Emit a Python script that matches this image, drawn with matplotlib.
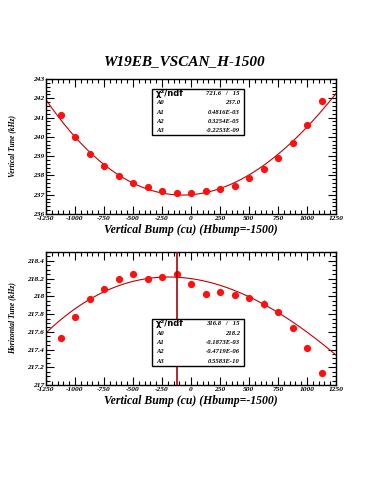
import numpy as np
import matplotlib
matplotlib.use("Agg")
import matplotlib.pyplot as plt
from matplotlib.ticker import MultipleLocator, FixedLocator
from matplotlib.patches import Rectangle

# ---- data ----
bump = [-1125, -1000, -875, -750, -625, -500, -375, -250, -125, 0,
        125, 250, 375, 500, 625, 750, 875, 1000, 1125]
vtune = [241.15, 239.97, 239.11, 238.48, 237.97, 237.60, 237.39, 237.21, 237.08, 237.11,
         237.18, 237.28, 237.46, 237.87, 238.32, 238.92, 239.67, 240.60, 241.84]
vtune_err = [0.03] * 19
htune = [217.53, 217.77, 217.97, 218.08, 218.19, 218.25, 218.19, 218.22, 218.25, 218.14,
         218.03, 218.05, 218.02, 217.98, 217.91, 217.82, 217.64, 217.42, 217.14]
htune_err = [0.015] * 14 + [0.045] + [0.015] * 4
vfit = [237.0, 0.4816e-03, 0.3254e-05, -0.2253e-09]
hfit = [218.2, -0.1873e-03, -0.4719e-06, 0.5583e-10]
vstats = [("\u03c7\u00b2/ndf", "721.6   /   15"), ("A0", "237.0"), ("A1", "0.4816E-03"),
          ("A2", "0.3254E-05"), ("A3", "-0.2253E-09")]
hstats = [("\u03c7\u00b2/ndf", "316.8   /   15"), ("A0", "218.2"), ("A1", "-0.1873E-03"),
          ("A2", "-0.4719E-06"), ("A3", "0.5583E-10")]
hpeak = -125
xticks = [-1250, -1000, -750, -500, -250, 0, 250, 500, 750, 1000, 1250]

title = "W19EB_VSCAN_H-1500"
xlabel = "Vertical Bump (cu) (Hbump=-1500)"

W, H = 375, 500
fig = plt.figure(figsize=(W / 100, H / 100), dpi=100)
fig.patch.set_facecolor("white")

serif = ["Liberation Serif", "DejaVu Serif"]


def px(x0, y0, x1, y1):
    return [x0 / W, 1 - y1 / H, (x1 - x0) / W, (y1 - y0) / H]


def style_axes(ax, ymaj, ymin, yfmt):
    ax.set_xlim(-1250, 1250)
    ax.xaxis.set_major_locator(FixedLocator(xticks))
    ax.xaxis.set_minor_locator(MultipleLocator(50))
    ax.yaxis.set_major_locator(MultipleLocator(ymaj))
    ax.yaxis.set_minor_locator(MultipleLocator(ymin))
    ax.tick_params(which="both", direction="in", top=True, right=True, width=0.8,
                   labelsize=5.3, pad=1.5)
    ax.tick_params(which="major", length=6)
    ax.tick_params(which="minor", length=3)
    for s in ax.spines.values():
        s.set_linewidth(1.0)
    ax.set_xticklabels([str(t) for t in xticks], family=serif, style="italic",
                       fontweight="bold")
    ax.yaxis.set_major_formatter(matplotlib.ticker.FuncFormatter(yfmt))
    for lab in ax.get_yticklabels():
        lab.set_family(serif)
        lab.set_style("italic")
        lab.set_fontweight("bold")


def stats_box(x0, y0, x1, y1, rows):
    fig.patches.append(Rectangle((x0 / W, 1 - y1 / H), (x1 - x0) / W, (y1 - y0) / H,
                                 transform=fig.transFigure, facecolor="white",
                                 edgecolor="black", linewidth=1.0, zorder=5))
    rh = (y1 - y0) / len(rows)
    for i, (lab, val) in enumerate(rows):
        yc = y0 + rh * (i + 0.5)
        fs = 6 if i == 0 else 4.8
        fig.text((x0 + 4) / W, 1 - yc / H, lab, fontsize=fs, ha="left", va="center",
                 family=["DejaVu Sans"] if i == 0 else serif,
                 style="normal" if i == 0 else "italic", fontweight="bold", zorder=6)
        fig.text((x1 - 4) / W, 1 - yc / H, val, fontsize=4.8, ha="right", va="center",
                 family=serif, style="italic", fontweight="bold", zorder=6)


xs = np.linspace(-1250, 1250, 200)

# ---- top panel ----
ax1 = fig.add_axes(px(46, 79, 336, 214))
ax1.set_ylim(236, 243)
style_axes(ax1, 1, 0.2, lambda v, p: "%d" % round(v))
ax1.plot(xs, np.polyval(vfit[::-1], xs), color="#c00000", lw=0.8, zorder=2)
ax1.errorbar(bump, vtune, yerr=vtune_err, fmt="o", color="#ff1010", ms=4.2,
             elinewidth=0.8, capsize=0, zorder=3)
ax1.set_xlabel(xlabel, family=serif, style="italic", fontweight="bold",
               fontsize=8.5, labelpad=2)
ax1.set_ylabel("Vertical Tune (kHz)", family=serif, style="italic", fontweight="bold",
               fontsize=5.5, labelpad=12)
stats_box(152, 89, 244, 135, vstats)

# ---- bottom panel ----
ax2 = fig.add_axes(px(46, 252, 336, 385))
ax2.set_ylim(217, 218.5)
style_axes(ax2, 0.2, 0.05, lambda v, p: ("%g" % round(v, 1)))
ax2.plot(xs, np.polyval(hfit[::-1], xs), color="#c00000", lw=0.8, zorder=2)
ax2.errorbar(bump, htune, yerr=htune_err, fmt="o", color="#ff1010", ms=4.2,
             elinewidth=0.8, capsize=0, zorder=3)
ax2.axvline(hpeak, color="#b00000", lw=1.2, zorder=7)
ax2.set_xlabel(xlabel, family=serif, style="italic", fontweight="bold",
               fontsize=8.5, labelpad=2)
ax2.set_ylabel("Horizontal Tune (kHz)", family=serif, style="italic", fontweight="bold",
               fontsize=5.5, labelpad=8)
stats_box(152, 319, 244, 366, hstats)

fig.text(185 / W, 1 - 62 / H, title, ha="center", va="center", family=serif,
         style="italic", fontweight="heavy", fontsize=11)

fig.savefig("out.png", dpi=100, facecolor="white")
